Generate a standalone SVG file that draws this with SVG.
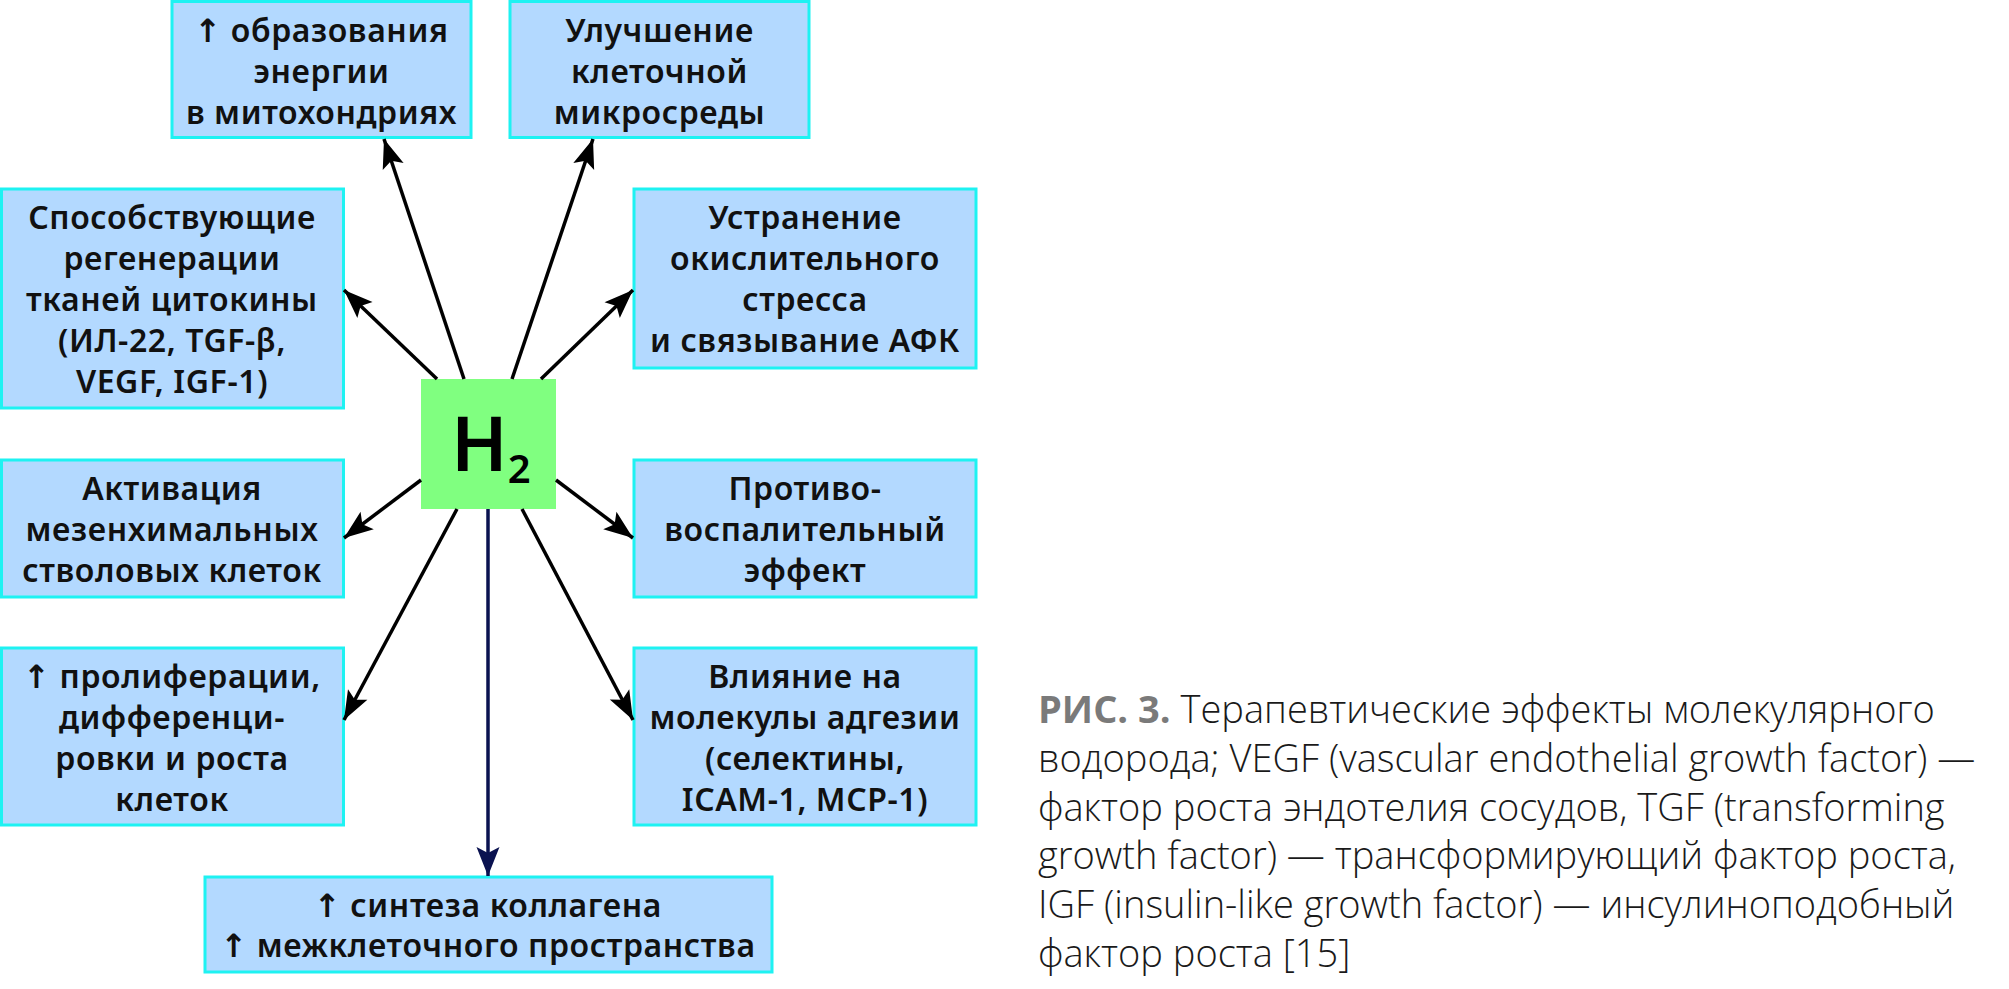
<svg xmlns="http://www.w3.org/2000/svg" width="2009" height="989" viewBox="0 0 2009 989">
<defs>
<style>
.box{fill:#b3d9ff;stroke:#1ef2f2;stroke-width:3}
.t{font-family:"Noto Sans","Open Sans","DejaVu Sans",sans-serif;font-weight:600;font-size:32px;letter-spacing:0.6px;fill:#111;text-anchor:middle}
.c{stroke:#000;stroke-width:3.5;fill:none;marker-end:url(#ah)}
.cap{font-family:"Open Sans","Noto Sans",sans-serif;font-weight:300;font-size:38px;fill:#1a1a1a}
</style>
<marker id="ah" markerUnits="userSpaceOnUse" viewBox="-30 -13 32 26" refX="0" refY="0" markerWidth="32" markerHeight="26" orient="auto">
<path d="M0,0 L-29,-11 L-23,0 L-29,11 Z" fill="#000"/>
</marker>
<marker id="ahn" markerUnits="userSpaceOnUse" viewBox="-30 -13 32 26" refX="0" refY="0" markerWidth="32" markerHeight="26" orient="auto">
<path d="M0,0 L-29,-11.5 L-23,0 L-29,11.5 Z" fill="#0a1250"/>
</marker>
</defs>
<rect width="2009" height="989" fill="#fff"/>
<g id="nodes">
<g id="h2">
<rect x="421" y="379" width="135" height="130" fill="#80ff80"/>
<text x="451" y="471" font-family="Noto Sans, Open Sans, sans-serif" font-weight="600" font-size="75" fill="#000">H<tspan font-size="40" dy="12">2</tspan></text>
</g>
<g id="n-energy">
<rect class="box" x="172" y="1.5" width="299" height="136"/>
<text class="t"><tspan x="321.5" y="42">↑ образования</tspan><tspan x="321.5" y="83">энергии</tspan><tspan x="321.5" y="124">в митохондриях</tspan></text>
</g>
<g id="n-micro">
<rect class="box" x="510" y="1.5" width="299" height="136"/>
<text class="t"><tspan x="659.5" y="42">Улучшение</tspan><tspan x="659.5" y="83">клеточной</tspan><tspan x="659.5" y="124">микросреды</tspan></text>
</g>
<g id="n-cyto">
<rect class="box" x="1.5" y="189" width="342" height="219"/>
<text class="t"><tspan x="172" y="229">Способствующие</tspan><tspan x="172" y="270">регенерации</tspan><tspan x="172" y="311">тканей цитокины</tspan><tspan x="172" y="352">(ИЛ-22, TGF-β,</tspan><tspan x="172" y="393">VEGF, IGF-1)</tspan></text>
</g>
<g id="n-ox">
<rect class="box" x="634" y="189" width="342" height="179"/>
<text class="t"><tspan x="805" y="229">Устранение</tspan><tspan x="805" y="270">окислительного</tspan><tspan x="805" y="311">стресса</tspan><tspan x="805" y="352">и связывание АФК</tspan></text>
</g>
<g id="n-msc">
<rect class="box" x="1.5" y="460" width="342" height="137"/>
<text class="t"><tspan x="172" y="500">Активация</tspan><tspan x="172" y="541">мезенхимальных</tspan><tspan x="172" y="582">стволовых клеток</tspan></text>
</g>
<g id="n-anti">
<rect class="box" x="634" y="460" width="342" height="137"/>
<text class="t"><tspan x="805" y="500">Противо-</tspan><tspan x="805" y="541">воспалительный</tspan><tspan x="805" y="582">эффект</tspan></text>
</g>
<g id="n-prolif">
<rect class="box" x="1.5" y="648" width="342" height="177"/>
<text class="t"><tspan x="172" y="688">↑ пролиферации,</tspan><tspan x="172" y="729">дифференци-</tspan><tspan x="172" y="770">ровки и роста</tspan><tspan x="172" y="811">клеток</tspan></text>
</g>
<g id="n-adh">
<rect class="box" x="634" y="648" width="342" height="177"/>
<text class="t"><tspan x="805" y="688">Влияние на</tspan><tspan x="805" y="729">молекулы адгезии</tspan><tspan x="805" y="770">(селектины,</tspan><tspan x="805" y="811">ICAM-1, MCP-1)</tspan></text>
</g>
<g id="n-coll">
<rect class="box" x="205" y="877" width="567" height="95"/>
<text class="t"><tspan x="488" y="917">↑ синтеза коллагена</tspan><tspan x="488" y="957">↑ межклеточного пространства</tspan></text>
</g>
</g>
<g id="connectors">
<line class="c" x1="464" y1="379" x2="384" y2="139"/>
<line class="c" x1="512" y1="379" x2="593" y2="139"/>
<line class="c" x1="437" y1="379" x2="344" y2="290"/>
<line class="c" x1="541" y1="379" x2="633" y2="290"/>
<line class="c" x1="421" y1="480" x2="344" y2="538"/>
<line class="c" x1="556" y1="480" x2="633" y2="538"/>
<line class="c" x1="457" y1="509" x2="344" y2="720"/>
<line class="c" x1="522" y1="509" x2="633" y2="720"/>
<line x1="488" y1="509" x2="488" y2="876" stroke="#0a1250" stroke-width="3.5" marker-end="url(#ahn)"/>
</g>
<g id="caption">
<text class="cap" x="1038" y="723"><tspan font-weight="700" fill="#7a7a7a">РИС. 3.</tspan> Терапевтические эффекты молекулярного</text>
<text class="cap" x="1038" y="772">водорода; VEGF (vascular endothelial growth factor) —</text>
<text class="cap" x="1038" y="821">фактор роста эндотелия сосудов, TGF (transforming</text>
<text class="cap" x="1038" y="869">growth factor) — трансформирующий фактор роста,</text>
<text class="cap" x="1038" y="918">IGF (insulin-like growth factor) — инсулиноподобный</text>
<text class="cap" x="1038" y="967">фактор роста [15]</text>
</g>
</svg>
